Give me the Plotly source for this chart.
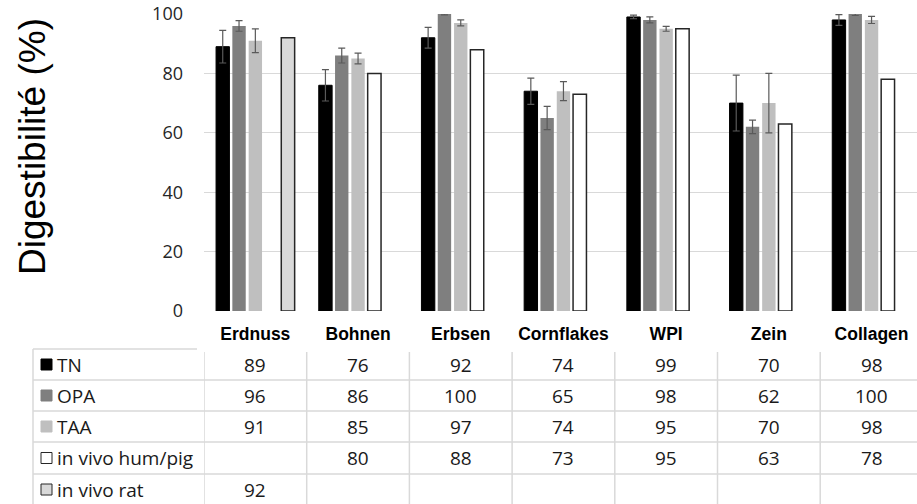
import plotly.graph_objects as go

categories = ["Erdnuss", "Bohnen", "Erbsen", "Cornflakes", "WPI", "Zein", "Collagen"]
series_names = ["TN", "OPA", "TAA", "in vivo hum/pig", "in vivo rat"]
tn = [89, 76, 92, 74, 99, 70, 98]
opa = [96, 86, 100, 65, 98, 62, 100]
taa = [91, 85, 97, 74, 95, 70, 98]
hum_pig = [None, 80, 88, 73, 95, 63, 78]
rat = [92, None, None, None, None, None, None]
tn_err = [5.5, 5.3, 3.5, 4.4, 0.6, 9.4, 1.8]
opa_err = [1.8, 2.5, 0.3, 3.9, 1.0, 2.3, 0.5]
taa_err = [4.0, 1.8, 1.0, 3.2, 0.8, 10.0, 1.2]
y_ticks = [0, 20, 40, 60, 80, 100]

W, H = 917, 504
L, R, T, B = 204, 0, 14, 193
PW, PH = W - L - R, H - T - B
cat_px = 102.7

def X(px):
    return (px - L) / PW

def Y(py):
    return (H - B - py) / PH

fills = ["#000000", "#7f7f7f", "#bfbfbf", "#ffffff", "#d9d9d9"]
lines = ["#000000", "#7f7f7f", "#bfbfbf", "#262626", "#262626"]
lwidth = [1, 0, 0, 1.5, 1.5]
values = [tn, opa, taa, hum_pig, rat]
errs = [tn_err, opa_err, taa_err, None, None]

fig = go.Figure()
for name, vals, err, fc, lc, lw in zip(series_names, values, errs, fills, lines, lwidth):
    kw = {}
    if err is not None:
        kw["error_y"] = dict(type="data", array=err, visible=True,
                             color="#5a5a5a", thickness=1.2, width=3.5)
    fig.add_trace(go.Bar(x=categories, y=vals, name=name,
                         marker=dict(color=fc, line=dict(color=lc, width=lw)),
                         **kw))

shapes = []
annotations = []
grid_col = "#d9d9d9"
row_bounds = [349, 380, 411, 442, 474, 505]
row_centers = [(row_bounds[i] + row_bounds[i + 1]) / 2 for i in range(5)]

# table top line (legend column only)
shapes.append(dict(type="line", xref="paper", yref="paper", x0=X(33), x1=X(197),
                   y0=Y(349), y1=Y(349), line=dict(color=grid_col, width=1.5)))
for yb in row_bounds[1:5]:
    shapes.append(dict(type="line", xref="paper", yref="paper", x0=X(33), x1=X(W + 5),
                       y0=Y(yb), y1=Y(yb), line=dict(color=grid_col, width=1.5)))
# left border
shapes.append(dict(type="line", xref="paper", yref="paper", x0=X(33), x1=X(33),
                   y0=Y(349), y1=Y(H + 5), line=dict(color=grid_col, width=1.5)))
# column separators
for i in range(len(categories)):
    shapes.append(dict(type="line", xref="x", yref="paper", x0=i - 0.5, x1=i - 0.5,
                       y0=Y(352), y1=Y(H + 5), line=dict(color=grid_col, width=1.5)))

# legend column
for i, name in enumerate(series_names):
    yc = row_centers[i]
    shapes.append(dict(type="rect", xref="paper", yref="paper",
                       x0=X(41), x1=X(52), y0=Y(yc + 5.5), y1=Y(yc - 5.5),
                       fillcolor=fills[i],
                       line=dict(color="#262626" if i >= 3 else fills[i], width=1)))
    annotations.append(dict(xref="paper", yref="paper", x=X(55), y=Y(yc),
                            text=name, showarrow=False, xanchor="left", yanchor="middle",
                            font=dict(family="Open Sans", size=19, color="#1a1a1a")))

# table values
for r, vals in enumerate(values):
    for c, v in enumerate(vals):
        if v is None:
            continue
        annotations.append(dict(xref="x", yref="paper", x=categories[c], y=Y(row_centers[r]),
                                text=str(v), showarrow=False, xanchor="center", yanchor="middle",
                                font=dict(family="Open Sans", size=19, color="#1a1a1a")))

# y title
annotations.append(dict(xref="paper", yref="paper", x=X(32), y=Y(147),
                        text="Digestibilité (%)", textangle=-90, showarrow=False,
                        xanchor="center", yanchor="middle",
                        font=dict(family="Liberation Sans, Arial", size=37, color="#000000")))

fig.update_layout(
    width=W, height=H,
    margin=dict(l=L, r=R, t=T, b=B, pad=0),
    paper_bgcolor="white", plot_bgcolor="white",
    barmode="group", bargap=0.206, bargroupgap=0.18,
    showlegend=False,
    shapes=shapes, annotations=annotations,
    xaxis=dict(range=[-0.5, -0.5 + PW / cat_px], showgrid=False, zeroline=False,
               showline=False, ticks="",
               tickfont=dict(family="Liberation Sans, Arial", size=17.5, color="#000000",
                             weight="bold"),
               ticklabelstandoff=10),
    yaxis=dict(range=[0, 100], tickvals=y_ticks, showgrid=True, gridcolor=grid_col,
               gridwidth=1, zeroline=False, showline=False, ticks="",
               tickfont=dict(family="Open Sans", size=18, color="#262626"),
               ticklabelstandoff=20),
)

fig.write_html("out.html", config={"displayModeBar": False},
               post_script="document.body.style.margin='0px';document.body.style.overflow='hidden';")
